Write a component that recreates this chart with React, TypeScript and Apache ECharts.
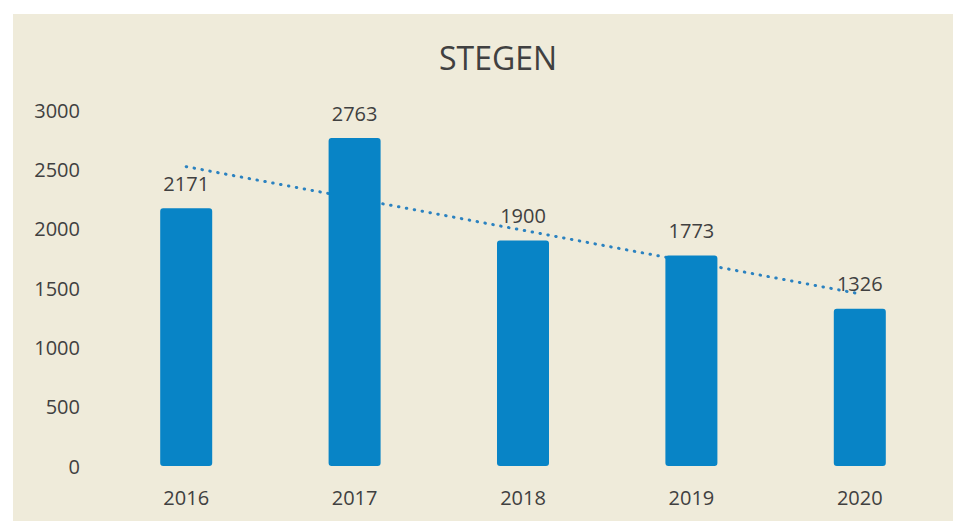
import React, { useEffect, useRef } from "react";
import * as echarts from "echarts";

const title = "STEGEN";
const years = ["2016", "2017", "2018", "2019", "2020"];
const values = [2171, 2763, 1900, 1773, 1326];
const yTicks = { min: 0, max: 3000, interval: 500 };

// linear (least-squares) trendline over the bar values, as in the source chart
function trend(vals: number[]): number[] {
  const n = vals.length;
  const xs = vals.map((_, i) => i + 1);
  const mx = xs.reduce((a, b) => a + b, 0) / n;
  const my = vals.reduce((a, b) => a + b, 0) / n;
  let sxy = 0, sxx = 0;
  for (let i = 0; i < n; i++) {
    sxy += (xs[i] - mx) * (vals[i] - my);
    sxx += (xs[i] - mx) * (xs[i] - mx);
  }
  const k = sxy / sxx;
  return xs.map((x) => Math.round((my + k * (x - mx)) * 10) / 10);
}

export default function App() {
  const ref = useRef<HTMLDivElement>(null);
  useEffect(() => {
    if (!ref.current) return;
    const chart = echarts.init(ref.current, undefined, { renderer: "svg" });
    const font = "'Open Sans', sans-serif";
    chart.setOption({
      animation: false,
      backgroundColor: "#ffffff",
      graphic: [
        {
          type: "rect",
          z: -10,
          shape: { x: 13, y: 14, width: 953 - 13, height: 521 - 14 },
          style: { fill: "#efebda" },
        },
      ],
      title: {
        text: title,
        left: 434,
        top: 36,
        textStyle: {
          fontFamily: font,
          fontSize: 32,
          fontWeight: "normal",
          color: "#404040",
        },
      },
      grid: { left: 102, right: 9, top: 110, bottom: 55, containLabel: false },
      xAxis: {
        type: "category",
        data: years,
        axisLine: { show: false },
        axisTick: { show: false },
        axisLabel: {
          margin: 21,
          fontFamily: font,
          fontSize: 20,
          color: "#404040",
        },
      },
      yAxis: {
        type: "value",
        min: yTicks.min,
        max: yTicks.max,
        interval: yTicks.interval,
        axisLine: { show: false },
        axisTick: { show: false },
        splitLine: { show: false },
        axisLabel: {
          margin: 22,
          fontFamily: font,
          fontSize: 20,
          color: "#404040",
          formatter: (v: number) => String(v),
        },
      },
      series: [
        {
          type: "line",
          data: trend(values),
          symbol: "none",
          z: 1,
          lineStyle: {
            color: "#2b82c0",
            width: 3,
            type: [0.5, 7.5],
            cap: "round",
          },
        },
        {
          type: "bar",
          data: values,
          barWidth: 52,
          z: 3,
          itemStyle: { color: "#0884c6", borderRadius: 3 },
          label: {
            show: true,
            position: "top",
            distance: 15,
            fontFamily: font,
            fontSize: 20,
            color: "#404040",
          },
        },
      ],
    });
    return () => chart.dispose();
  }, []);
  return (
    <div
      ref={ref}
      style={{ position: "fixed", left: 0, top: 0, width: 953, height: 521 }}
    />
  );
}
